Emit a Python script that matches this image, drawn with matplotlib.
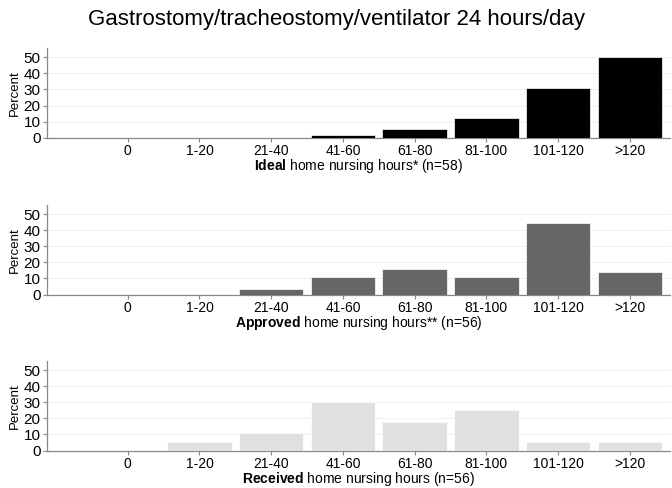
import matplotlib
matplotlib.use("Agg")
import matplotlib.pyplot as plt
import numpy as np

plt.rcParams['font.family'] = ['Liberation Sans', 'DejaVu Sans']
plt.rcParams['mathtext.fontset'] = 'custom'
plt.rcParams['mathtext.rm'] = 'Liberation Sans'
plt.rcParams['mathtext.bf'] = 'Liberation Sans:bold'

categories = ['0', '1-20', '21-40', '41-60', '61-80', '81-100', '101-120', '>120']
ideal = [0, 0, 0, 1.7, 5.2, 12.1, 31.0, 50.0]
approved = [0, 0, 3.6, 10.7, 16.1, 10.7, 44.6, 14.3]
received = [0, 5.4, 10.7, 30.4, 17.9, 25.0, 5.4, 5.4]

panels = [
    (ideal, '#000000', r'$\bf{Ideal}$ home nursing hours* (n=58)'),
    (approved, '#666666', r'$\bf{Approved}$ home nursing hours** (n=56)'),
    (received, '#e0e0e0', r'$\bf{Received}$ home nursing hours (n=56)'),
]

W, H = 672, 488
fig = plt.figure(figsize=(W / 100, H / 100), dpi=100)
fig.text(0.5, 1 - 20 / H, 'Gastrostomy/tracheostomy/ventilator 24 hours/day',
         ha='center', va='center', fontsize=16)

x = np.arange(len(categories))
left, right = 46.7, 670
bottoms = [137.7, 294.5, 450.5]
height = 89.7

for (vals, col, lab), b in zip(panels, bottoms):
    ax = fig.add_axes([left / W, 1 - b / H, (right - left) / W, height / H])
    ax.bar(x, vals, width=0.9, color=col, edgecolor='white', linewidth=0.5, zorder=3)
    ax.set_xlim(-1.13, 7.56)
    ax.set_ylim(0, 55.8)
    ax.set_yticks([0, 10, 20, 30, 40, 50])
    ax.set_xticks(x)
    ax.set_xticklabels(categories)
    ax.yaxis.grid(True, color='#f0f0f0', linewidth=0.8, zorder=0)
    ax.set_axisbelow(True)
    for s in ['top', 'right']:
        ax.spines[s].set_visible(False)
    for s in ['left', 'bottom']:
        ax.spines[s].set_color('#888888')
        ax.spines[s].set_linewidth(0.9)
    ax.tick_params(axis='both', colors='#888888', labelcolor='black', length=3, width=0.8,
                   pad=1.5, labelsize=10)
    ax.tick_params(axis='y', labelsize=11, pad=1.5)
    ax.set_ylabel('Percent', fontsize=9.5, labelpad=2)
    ax.set_xlabel(lab, fontsize=10, labelpad=-0.5)

fig.savefig('out.png', dpi=100)
